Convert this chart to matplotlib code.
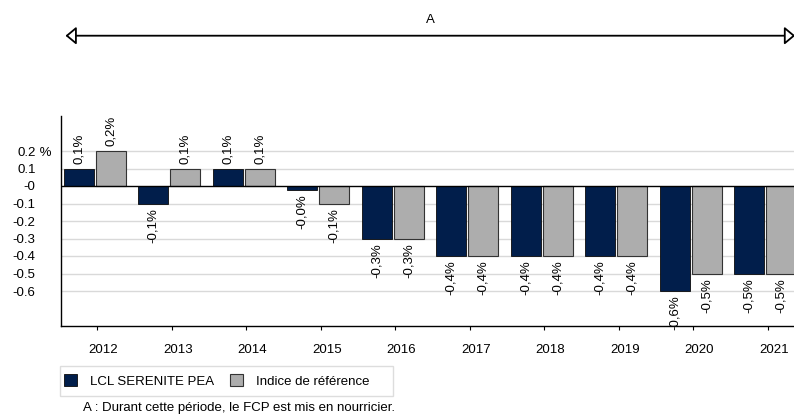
import matplotlib
matplotlib.use('Agg')
import matplotlib.pyplot as plt
import matplotlib.transforms as mtransforms
from matplotlib.patches import Patch, Rectangle, FancyArrowPatch
import numpy as np

plt.rcParams['font.family'] = ['Liberation Sans', 'DejaVu Sans']

# data
years = ['2012', '2013', '2014', '2015', '2016', '2017', '2018', '2019', '2020', '2021']
fund = [0.1, -0.1, 0.1, -0.02, -0.3, -0.4, -0.4, -0.4, -0.6, -0.5]
index = [0.2, 0.1, 0.1, -0.1, -0.3, -0.4, -0.4, -0.4, -0.5, -0.5]
yticks = [0.2, 0.1, 0.0, -0.1, -0.2, -0.3, -0.4, -0.5, -0.6]
ytick_labels = ['0.2', '0.1', '-0', '-0.1', '-0.2', '-0.3', '-0.4', '-0.5', '-0.6']
names = ['LCL SERENITE PEA', 'Indice de référence']
period_label = 'A'
note = 'A : Durant cette période, le FCP est mis en nourricier.'

c_fund = '#011E4B'
c_index = '#ADADAD'
fs = 9.5

W, H = 794, 416
fig = plt.figure(figsize=(W / 100, H / 100), dpi=100)

# axes in pixel geometry (right side runs past the image edge)
left, right, bottom, top = 60.5, 805.5, 326, 116
ax = fig.add_axes([left / W, 1 - bottom / H, (right - left) / W, (bottom - top) / H])

x = np.arange(len(years))
w = 0.4
off = 0.215
b1 = ax.bar(x - off, fund, w, color=c_fund, edgecolor='#0a0a0a', linewidth=0.6, zorder=3)
b2 = ax.bar(x + off, index, w, color=c_index, edgecolor='#333333', linewidth=0.8, zorder=3)

# value labels
for bars, vals in ((b1, fund), (b2, index)):
    for r, v in zip(bars, vals):
        txt = '{:.1f}%'.format(v).replace('.', ',')
        if v >= 0:
            ax.annotate(txt, (r.get_x() + r.get_width() / 2, v), xytext=(0, 3.3),
                        textcoords='offset points', rotation=90, ha='center', va='bottom',
                        fontsize=fs, zorder=4)
        else:
            ax.annotate(txt, (r.get_x() + r.get_width() / 2, v), xytext=(0, -3.3),
                        textcoords='offset points', rotation=90, ha='center', va='top',
                        fontsize=fs, zorder=4)

ax.set_xlim(-0.459, 9.541)
ax.set_ylim(-0.8, 0.4)

# grid
for yv in yticks:
    if yv == 0:
        ax.axhline(0, color='black', lw=1.0, zorder=3.5)
    else:
        ax.axhline(yv, color='#d9d9d9', lw=1.0, zorder=1)

ax.set_yticks(yticks)
ax.set_yticklabels(ytick_labels, fontsize=fs)
ax.tick_params(axis='y', length=0, pad=18)
# ' %' right after the top tick label
ax.text(-(60.5 - 36) / (right - left), 0.2, ' %',
        transform=mtransforms.blended_transform_factory(ax.transAxes, ax.transData),
        ha='left', va='center_baseline', fontsize=fs)

ax.set_xticks(x + 0.035)
ax.set_xticklabels(years, fontsize=fs)
ax.tick_params(axis='x', length=3, width=0.8, pad=10)
shift = mtransforms.ScaledTranslation(6 / 100, 0, fig.dpi_scale_trans)
for lab in ax.get_xticklabels():
    lab.set_transform(lab.get_transform() + shift)

for s in ('top', 'right'):
    ax.spines[s].set_visible(False)
ax.spines['left'].set_linewidth(1.0)
ax.spines['bottom'].set_linewidth(1.0)

# period arrow
arr = FancyArrowPatch((62.7 / W, 1 - 35.7 / H), (798 / W, 1 - 35.7 / H),
                      transform=fig.transFigure, arrowstyle='<|-|>,head_length=6.5,head_width=5.4',
                      mutation_scale=1, facecolor='white', edgecolor='black', lw=1.3)
fig.patches.append(arr)
fig.text(430 / W, 1 - 20 / H, period_label, ha='center', va='center', fontsize=fs)

# legend
fig.patches.append(Rectangle((60 / W, 1 - 396 / H), (393 - 60) / W, 30 / H,
                             transform=fig.transFigure, facecolor='white',
                             edgecolor='#dddddd', lw=1.0))
handles = [Patch(facecolor=c_fund, edgecolor='#0a0a0a', lw=0.6),
           Patch(facecolor=c_index, edgecolor='#333333', lw=0.8)]
fig.legend(handles, names, loc='center left', bbox_to_anchor=(61 / W, 1 - 381 / H),
           ncol=2, frameon=False, fontsize=fs, handlelength=1.0, handleheight=1.0,
           handletextpad=1.0, columnspacing=1.2, borderpad=0.2, borderaxespad=0)

fig.text(82.7 / W, 1 - 402 / H, note, ha='left', va='top', fontsize=9.5)

fig.savefig('out.png', dpi=100)
